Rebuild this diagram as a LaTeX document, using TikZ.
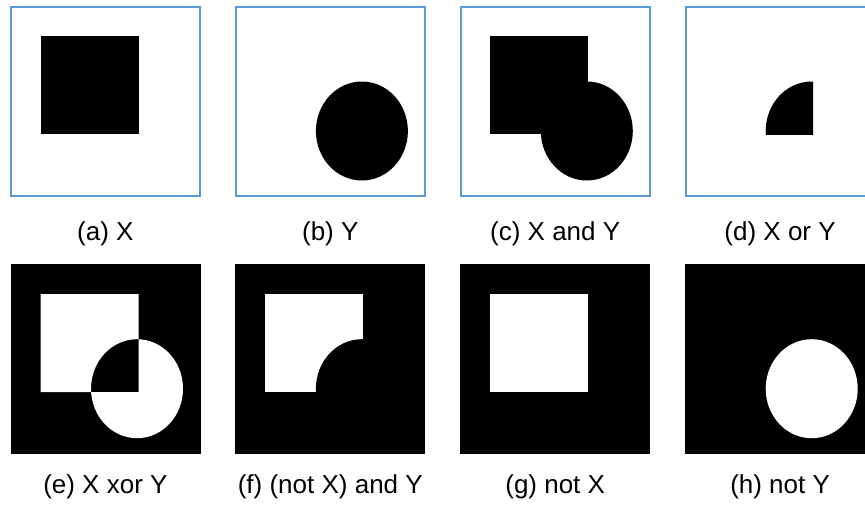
\documentclass[tikz,border=0pt]{standalone}
\usepackage{fontspec}
\setmainfont{Liberation Sans}
\definecolor{framecol}{RGB}{91,155,213}
% square X and ellipse Y, placed relative to a panel corner (#1,#2)
\newcommand\sqpath[2]{(#1+30.5,#2+30.3) rectangle (#1+128.5,#2+128.3)}
\newcommand\elpath[2]{(#1+127,#2+125) ellipse [x radius=46, y radius=49.5]}
\newcommand\bgpath[2]{(#1+0.5,#2) rectangle (#1+190.5,#2+190)}
\begin{document}
\begin{tikzpicture}[x=1pt,y=-1pt,
  frame/.style={draw=framecol,line width=1.8pt},
  caption/.style={font=\fontsize{26}{30}\selectfont,anchor=center,inner sep=0pt}]
\useasboundingbox (0,0) rectangle (865,504);
\fill[white] (0,0) rectangle (865,504);
\def\la{10}\def\lb{234.9}\def\lc{459.8}\def\ld{684.7}
\def\ytop{6}\def\ybot{263.7}
% ---- top row: white panels with blue frame
\foreach \L in {\la,\lb,\lc,\ld}
  \draw[frame] (\L+0.9,6.9) rectangle (\L+189.8,196.1);
% (a) X
\fill[black] \sqpath{\la}{\ytop};
% (b) Y
\fill[black] \elpath{\lb}{\ytop};
% (c) union
\fill[black] \sqpath{\lc}{\ytop};
\fill[black] \elpath{\lc}{\ytop};
% (d) intersection
\begin{scope}
  \clip \sqpath{\ld}{\ytop};
  \fill[black] \elpath{\ld}{\ytop};
\end{scope}
% ---- bottom row: black panels
\foreach \L in {\la,\lb,\lc,\ld}
  \fill[black] \bgpath{\L}{264};
% (e) symmetric difference
\fill[white,even odd rule] \sqpath{\la}{\ybot} \elpath{\la}{\ybot};
% (f) square minus ellipse
\fill[white] \sqpath{\lb}{\ybot};
\fill[black] \elpath{\lb}{\ybot};
% (g) complement of X
\fill[white] \sqpath{\lc}{\ybot};
% (h) complement of Y
\fill[white] \elpath{\ld}{\ybot};
% ---- captions
\node[caption] (capa) at (\la+95.4,234) {(a) X};
\node[caption] (capb) at (\lb+95.4,234) {(b) Y};
\node[caption] (capc) at (\lc+95.4,234) {(c) X and Y};
\node[caption] (capd) at (\ld+95.4,234) {(d) X or Y};
\node[caption] (cape) at (\la+95.4,487) {(e) X xor Y};
\node[caption] (capf) at (\lb+95.4,487) {(f) (not X) and Y};
\node[caption] (capg) at (\lc+95.4,487) {(g) not X};
\node[caption] (caph) at (\ld+95.4,487) {(h) not Y};
\end{tikzpicture}
\end{document}
